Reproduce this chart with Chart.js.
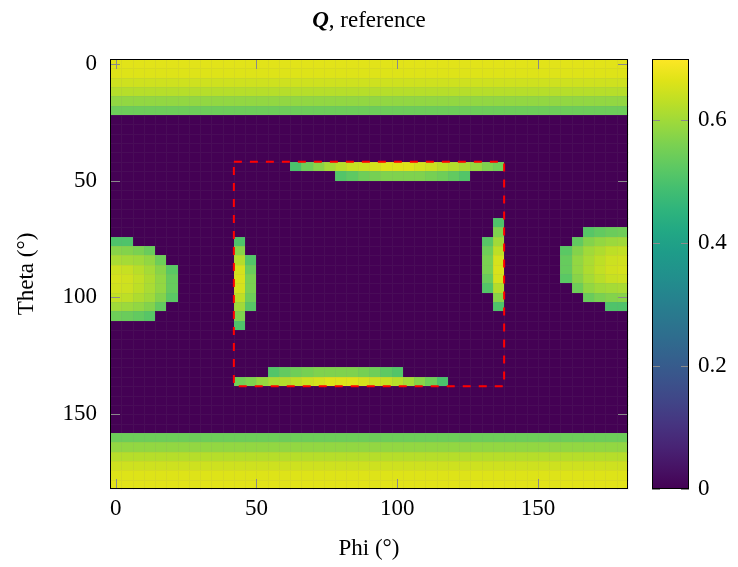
<!DOCTYPE html>
<html>
<head>
<meta charset="utf-8">
<script src="https://cdn.jsdelivr.net/npm/chart.js@4.4.0/dist/chart.umd.min.js"></script>
<style>
  html, body { margin: 0; padding: 0; background: #fff; }
  #wrap { width: 738px; height: 567px; }
</style>
</head>
<body>
<div id="wrap"><canvas id="qmap" width="738" height="567"></canvas></div>
<script>
// grid cell centres (degrees)
const phiDeg = [0,4,8,12,16,20,24,28,32,36,40,44,48,52,56,60,64,68,72,76,80,84,88,92,96,100,104,108,112,116,120,124,128,132,136,140,144,148,152,156,160,164,168,172,176,180];
const thetaDeg = [0,4,8,12,16,20,24,28,32,36,40,44,48,52,56,60,64,68,72,76,80,84,88,92,96,100,104,108,112,116,120,124,128,132,136,140,144,148,152,156,160,164,168,172,176,180];
const axisTicks = [0, 50, 100, 150];
const cbarTicks = [0, 0.2, 0.4, 0.6];
const qMin = 0, qMax = 0.7;

// pole bands, same value along phi
const topBandTheta = [0, 4, 8, 12, 16, 20];
const topBandQ = [0.669, 0.664, 0.648, 0.623, 0.585, 0.544];
const bottomBandTheta = [160, 164, 168, 172, 176, 180];
const bottomBandQ = [0.544, 0.585, 0.623, 0.648, 0.664, 0.669];

// column pieces: [phi, first theta, values going down]
const leftBlob = [
  [0, 76, [0.505, 0.575, 0.61, 0.645, 0.655, 0.65, 0.635, 0.60, 0.545]],
  [4, 76, [0.505, 0.57, 0.605, 0.64, 0.65, 0.645, 0.63, 0.595, 0.54]],
  [8, 80, [0.56, 0.60, 0.625, 0.635, 0.63, 0.615, 0.585, 0.53]],
  [12, 80, [0.54, 0.585, 0.605, 0.615, 0.61, 0.60, 0.57, 0.515]],
  [16, 84, [0.545, 0.575, 0.585, 0.585, 0.57, 0.53]],
  [20, 88, [0.52, 0.535, 0.535, 0.52]]
];
const rightBlob = [
  [160, 80, [0.52, 0.535, 0.535, 0.52]],
  [164, 76, [0.53, 0.57, 0.585, 0.585, 0.575, 0.545]],
  [168, 72, [0.515, 0.57, 0.60, 0.61, 0.615, 0.605, 0.585, 0.54]],
  [172, 72, [0.53, 0.585, 0.615, 0.63, 0.635, 0.625, 0.60, 0.56]],
  [176, 72, [0.54, 0.595, 0.63, 0.645, 0.65, 0.64, 0.605, 0.57, 0.505]],
  [180, 72, [0.545, 0.60, 0.635, 0.65, 0.655, 0.645, 0.61, 0.575, 0.505]]
];
const leftStrip = [
  [44, 76, [0.505, 0.575, 0.62, 0.655, 0.66, 0.655, 0.63, 0.60, 0.565, 0.505]],
  [48, 84, [0.51, 0.54, 0.56, 0.56, 0.545, 0.515]]
];
const rightStrip = [
  [132, 76, [0.515, 0.545, 0.56, 0.56, 0.54, 0.51]],
  [136, 68, [0.505, 0.565, 0.60, 0.63, 0.655, 0.66, 0.655, 0.62, 0.575, 0.505]]
];
// row pieces: [theta, first phi, values going right]
const topStrip = [
  [44, 64, [0.50, 0.545, 0.575, 0.605, 0.625, 0.64, 0.645, 0.655, 0.665, 0.665, 0.665, 0.655, 0.645, 0.63, 0.62, 0.61, 0.59, 0.565, 0.55]],
  [48, 80, [0.51, 0.525, 0.545, 0.555, 0.565, 0.565, 0.565, 0.565, 0.555, 0.545, 0.53, 0.51]]
];
const bottomStrip = [
  [132, 56, [0.51, 0.53, 0.545, 0.555, 0.565, 0.565, 0.565, 0.565, 0.555, 0.545, 0.525, 0.51]],
  [136, 44, [0.55, 0.565, 0.59, 0.61, 0.62, 0.63, 0.645, 0.655, 0.665, 0.665, 0.665, 0.655, 0.645, 0.64, 0.625, 0.605, 0.575, 0.545, 0.50]]
];

// dashed reference box
const boxPhi = [42, 138, 138, 42, 42];
const boxTheta = [42, 42, 138, 138, 42];

const viridis = ['#440154','#471365','#482475','#463480','#414487','#3b528b','#355f8d','#2f6c8e','#2a788e','#25848e',
                 '#21918c','#1e9c89','#22a884','#2fb47c','#44bf70','#5ec962','#7ad151','#9bd93c','#bddf26','#dfe318','#fde725'];
const FONT = '"Liberation Serif", "DejaVu Serif", serif';
const FSIZE = 23;

function hexRgb(h) { return [1, 3, 5].map(i => parseInt(h.substr(i, 2), 16)); }
function qColor(v) {
  const f = Math.min(Math.max((v - qMin) / (qMax - qMin), 0), 1) * (viridis.length - 1);
  const i = Math.min(Math.floor(f), viridis.length - 2);
  const t = f - i;
  const a = hexRgb(viridis[i]), b = hexRgb(viridis[i + 1]);
  return 'rgb(' + a.map((c, k) => Math.round(c + (b[k] - c) * t)).join(',') + ')';
}

// build the full matrix, zero everywhere else
const qGrid = {};
const key = (p, t) => p + '|' + t;
topBandTheta.forEach((t, k) => phiDeg.forEach(p => { qGrid[key(p, t)] = topBandQ[k]; }));
bottomBandTheta.forEach((t, k) => phiDeg.forEach(p => { qGrid[key(p, t)] = bottomBandQ[k]; }));
[...leftBlob, ...rightBlob, ...leftStrip, ...rightStrip].forEach(([p, t0, vals]) => {
  const j0 = thetaDeg.indexOf(t0);
  vals.forEach((v, k) => { qGrid[key(p, thetaDeg[j0 + k])] = v; });
});
[...topStrip, ...bottomStrip].forEach(([t, p0, vals]) => {
  const i0 = phiDeg.indexOf(p0);
  vals.forEach((v, k) => { qGrid[key(phiDeg[i0 + k], t)] = v; });
});
const cells = [];
thetaDeg.forEach(t => phiDeg.forEach(p => cells.push({ x: p, y: t, v: qGrid[key(p, t)] || 0 })));

const halfW = (phiDeg[1] - phiDeg[0]) / 2;
const halfH = (thetaDeg[1] - thetaDeg[0]) / 2;

const heatmap = {
  id: 'heatmap',
  beforeDatasetsDraw(chart) {
    const { ctx, scales: { x, y } } = chart;
    ctx.save();
    chart.data.datasets[0].data.forEach(c => {
      const x0 = Math.round(x.getPixelForValue(c.x - halfW)), x1 = Math.round(x.getPixelForValue(c.x + halfW));
      const y0 = Math.round(y.getPixelForValue(c.y - halfH)), y1 = Math.round(y.getPixelForValue(c.y + halfH));
      ctx.fillStyle = qColor(c.v);
      ctx.fillRect(x0, Math.min(y0, y1), x1 - x0, Math.abs(y1 - y0));
      ctx.strokeStyle = 'rgba(128,128,128,0.09)';
      ctx.lineWidth = 1;
      ctx.strokeRect(x0 + 0.5, Math.min(y0, y1) + 0.5, x1 - x0, Math.abs(y1 - y0));
    });
    ctx.restore();
  }
};

const frame = {
  id: 'frame',
  afterDraw(chart) {
    const { ctx, chartArea: a, scales: { x, y, cbar } } = chart;
    ctx.save();
    // inner ticks
    ctx.strokeStyle = '#8a8a8a';
    ctx.lineWidth = 1;
    const tl = 10;
    ctx.beginPath();
    axisTicks.forEach(v => {
      const px = Math.round(x.getPixelForValue(v)) + 0.5;
      ctx.moveTo(px, a.top); ctx.lineTo(px, a.top + tl);
      ctx.moveTo(px, a.bottom); ctx.lineTo(px, a.bottom - tl);
      const py = Math.round(y.getPixelForValue(v)) + 0.5;
      ctx.moveTo(a.left, py); ctx.lineTo(a.left + tl, py);
      ctx.moveTo(a.right, py); ctx.lineTo(a.right - tl, py);
    });
    ctx.stroke();
    ctx.strokeStyle = '#000';
    ctx.strokeRect(Math.round(a.left) + 0.5, Math.round(a.top) + 0.5, Math.round(a.right - a.left) - 1, Math.round(a.bottom - a.top) - 1);

    // colour bar
    const bx0 = Math.round(cbar.left + 24), bx1 = Math.round(cbar.left + 61);
    const yb = cbar.getPixelForValue(qMin), yt = cbar.getPixelForValue(qMax);
    const g = ctx.createLinearGradient(0, yb, 0, yt);
    viridis.forEach((c, i) => g.addColorStop(i / (viridis.length - 1), c));
    ctx.fillStyle = g;
    ctx.fillRect(bx0, yt, bx1 - bx0, yb - yt);
    ctx.strokeStyle = '#8a8a8a';
    ctx.beginPath();
    cbarTicks.forEach(v => {
      const py = Math.round(cbar.getPixelForValue(v)) + 0.5;
      ctx.moveTo(bx0, py); ctx.lineTo(bx0 + 8, py);
      ctx.moveTo(bx1, py); ctx.lineTo(bx1 - 8, py);
    });
    ctx.stroke();
    ctx.strokeStyle = '#000';
    ctx.strokeRect(bx0 + 0.5, Math.round(yt) + 0.5, bx1 - bx0 - 1, Math.round(yb - yt) - 1);

    // title: bold italic Q, then plain text
    const fq = 'italic bold ' + FSIZE + 'px ' + FONT, fr = FSIZE + 'px ' + FONT;
    ctx.font = fq; const w1 = ctx.measureText('Q').width;
    ctx.font = fr; const w2 = ctx.measureText(', reference').width;
    const tx = (a.left + a.right) / 2 - (w1 + w2) / 2;
    ctx.fillStyle = '#000';
    ctx.textBaseline = 'middle';
    ctx.textAlign = 'left';
    ctx.font = fq; ctx.fillText('Q', tx, 21);
    ctx.font = fr; ctx.fillText(', reference', tx + w1, 21);
    ctx.restore();
  }
};

const noPad = s => { s.paddingTop = 0; s.paddingBottom = 0; };

new Chart(document.getElementById('qmap'), {
  type: 'scatter',
  data: {
    datasets: [
      { label: 'Q', data: cells, pointRadius: 0, pointHoverRadius: 0 },
      { label: 'box', data: boxPhi.map((p, k) => ({ x: p, y: boxTheta[k] })), showLine: true,
        borderColor: '#ff0000', borderWidth: 2, borderDash: [8, 8], pointRadius: 0, fill: false, tension: 0 }
    ]
  },
  options: {
    responsive: false,
    animation: false,
    devicePixelRatio: 1,
    events: [],
    layout: { padding: { top: 59, left: 0, right: 0, bottom: 0 } },
    plugins: { legend: { display: false }, tooltip: { enabled: false } },
    scales: {
      x: {
        type: 'linear', position: 'bottom', min: -2, max: 182,
        afterBuildTicks: s => { s.ticks = axisTicks.map(v => ({ value: v })); },
        afterFit: s => { s.height = 78; s.paddingLeft = 0; s.paddingRight = 0; },
        grid: { display: false, drawTicks: false }, border: { display: false },
        ticks: { color: '#000', padding: 6, maxRotation: 0, font: { family: FONT, size: FSIZE } },
        title: { display: true, text: 'Phi (°)', color: '#000', font: { family: FONT, size: FSIZE }, padding: { top: 0, bottom: 4 } }
      },
      y: {
        type: 'linear', position: 'left', reverse: true, min: -2, max: 182,
        afterBuildTicks: s => { s.ticks = axisTicks.map(v => ({ value: v })); },
        afterFit: s => { s.width = 110; noPad(s); },
        grid: { display: false, drawTicks: false }, border: { display: false },
        ticks: { color: '#000', padding: 13, font: { family: FONT, size: FSIZE } },
        title: { display: true, text: 'Theta (°)', color: '#000', font: { family: FONT, size: FSIZE }, padding: { top: 13, bottom: 0 } }
      },
      cbar: {
        type: 'linear', position: 'right', min: qMin, max: qMax,
        afterBuildTicks: s => { s.ticks = cbarTicks.map(v => ({ value: v })); },
        afterFit: s => { s.width = 110; noPad(s); },
        grid: { display: false, drawTicks: false }, border: { display: false },
        ticks: { color: '#000', padding: 70, font: { family: FONT, size: FSIZE }, callback: v => v === 0 ? '0' : v.toFixed(1) }
      }
    }
  },
  plugins: [heatmap, frame]
});
</script>
</body>
</html>
